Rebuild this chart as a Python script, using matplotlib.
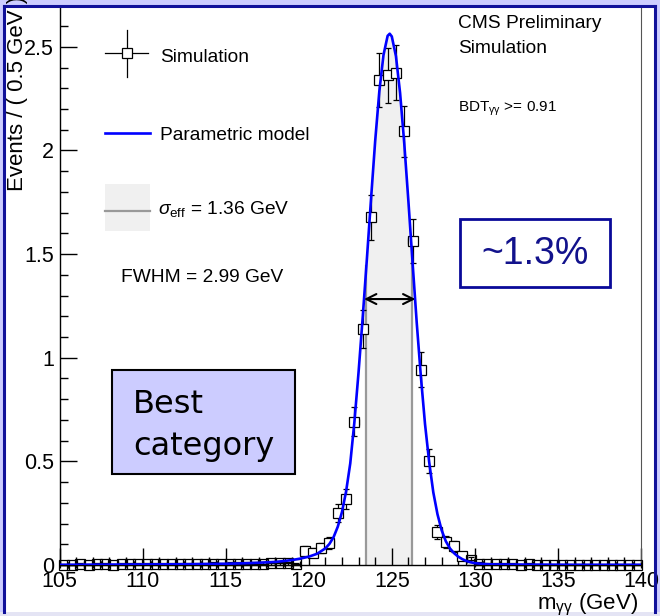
import numpy as np
import matplotlib
matplotlib.use("Agg")
import matplotlib.pyplot as plt
from matplotlib.patches import Rectangle
from matplotlib.lines import Line2D
from matplotlib.ticker import FixedLocator, MultipleLocator

plt.rcParams['font.family'] = ['Liberation Sans', 'DejaVu Sans']
plt.rcParams['mathtext.fontset'] = 'custom'
plt.rcParams['mathtext.rm'] = 'Liberation Sans'
plt.rcParams['mathtext.it'] = 'Liberation Sans:italic'
plt.rcParams['mathtext.bf'] = 'Liberation Sans:bold'

# ---------------- data ----------------
bin_width = 0.5
bin_centers = np.arange(105.25, 140.0, bin_width)

sim_values = [
    0.002, 0.002, 0.003, 0.002, 0.003, 0.003, 0.002, 0.003, 0.003, 0.004,
    0.003, 0.004, 0.004, 0.004, 0.005, 0.004, 0.005, 0.005, 0.006, 0.005,
    0.006, 0.006, 0.007, 0.007, 0.007, 0.008,          # 105.25 - 117.75
    0.008, 0.008, 0.005,                               # 118.25 - 119.25
    0.068, 0.059, 0.080, 0.107, 0.252, 0.320, 0.692, 1.140, 1.677, 2.340,
    2.362, 2.376, 2.092, 1.565, 0.943, 0.502, 0.160, 0.110, 0.090, 0.043,
    0.026, 0.006,                                      # 119.75 - 130.25
    0.005, 0.004, 0.003, 0.003, 0.002, 0.003, 0.002, 0.002, 0.002, 0.002,
    0.001, 0.002, 0.001, 0.001, 0.001, 0.001, 0.001, 0.001, 0.001,  # 130.75 - 139.75
]
sim_errors = [
    0.0038, 0.0038, 0.0047, 0.0038, 0.0047, 0.0047, 0.0038, 0.0047, 0.0047, 0.0054,
    0.0047, 0.0054, 0.0054, 0.0054, 0.0060, 0.0054, 0.0060, 0.0060, 0.0066, 0.0060,
    0.0066, 0.0066, 0.0071, 0.0071, 0.0071, 0.0076,
    0.0076, 0.0076, 0.0060,
    0.022, 0.021, 0.024, 0.028, 0.043, 0.048, 0.071, 0.091, 0.110, 0.130,
    0.131, 0.131, 0.123, 0.106, 0.083, 0.060, 0.034, 0.028, 0.0255, 0.0176,
    0.0137, 0.0066,
    0.0060, 0.0054, 0.0047, 0.0047, 0.0038, 0.0047, 0.0038, 0.0038, 0.0038, 0.0038,
    0.0027, 0.0038, 0.0027, 0.0027, 0.0027, 0.0027, 0.0027, 0.0027, 0.0027,
]

# parametric model curve
model_mass = [105.0, 108.0, 111.0, 113.0, 115.0, 116.0, 117.0, 118.0, 118.5, 119.0,
              119.5, 120.0, 120.5, 121.0, 121.25, 121.5, 121.75, 122.0, 122.25, 122.5,
              122.75, 123.0, 123.25, 123.5, 123.75, 124.0, 124.25, 124.5, 124.75, 124.875,
              125.0, 125.25, 125.5, 125.75, 126.0, 126.25, 126.5, 126.75, 127.0, 127.25,
              127.5, 127.75, 128.0, 128.25, 128.5, 128.75, 129.0, 129.25, 129.5, 129.75,
              130.0, 130.5, 131.0, 133.0, 136.0, 140.0]
model_values = [0.001, 0.002, 0.003, 0.004, 0.006, 0.008, 0.011, 0.015, 0.019, 0.024,
                0.031, 0.040, 0.054, 0.080, 0.102, 0.135, 0.185, 0.255, 0.355, 0.490,
                0.690, 0.930, 1.195, 1.475, 1.765, 2.045, 2.285, 2.460, 2.553, 2.563,
                2.550, 2.455, 2.277, 2.035, 1.755, 1.460, 1.170, 0.910, 0.680, 0.497,
                0.350, 0.245, 0.168, 0.115, 0.080, 0.057, 0.040, 0.028, 0.019, 0.013,
                0.009, 0.005, 0.003, 0.002, 0.001, 0.001]

sigma_eff_lo, sigma_eff_hi = 123.47, 126.19
fwhm_lo, fwhm_hi, half_max = 123.33, 126.42, 1.283

x_ticks = [105, 110, 115, 120, 125, 130, 135, 140]
x_tick_labels = ['105', '110', '115', '120', '125', '130', '135', '140']
y_ticks = [0, 0.5, 1.0, 1.5, 2.0, 2.5]
y_tick_labels = ['0', '0.5', '1', '1.5', '2', '2.5']

# ---------------- figure ----------------
W, H = 660, 616
fig = plt.figure(figsize=(W / 100, H / 100), dpi=100)
fig.patch.set_facecolor('#ccccff')


def P(x, y):
    return (x / W, 1 - y / H)


# slide frame
fig.patches.append(Rectangle(P(0, 616), 1, 4 / H, transform=fig.transFigure,
                             facecolor='#e4e4f4', edgecolor='none', zorder=-2))
fig.patches.append(Rectangle(P(4, 612), 651 / W, 606 / H, transform=fig.transFigure,
                             facecolor='white', edgecolor='none', zorder=-2))
border = '#10109a'
for (x0, y0, x1, y1) in [(4, 6, 4, 612), (4, 6, 655, 6), (655, 6, 655, 612)]:
    fig.lines.append(Line2D([x0 / W, x1 / W], [1 - y0 / H, 1 - y1 / H],
                            transform=fig.transFigure, color=border, lw=2.2, zorder=50))

ax = fig.add_axes([59.5 / W, (H - 565) / H, (641 - 59.5) / W, (565 - 7) / H])
ax.set_facecolor('none')
ax.set_xlim(105, 140)
ax.set_ylim(0, 2.692)

mm = np.array(model_mass)
mv = np.array(model_values)

# sigma_eff band
band_x = np.concatenate([[sigma_eff_lo], mm[(mm > sigma_eff_lo) & (mm < sigma_eff_hi)], [sigma_eff_hi]])
band_y = np.interp(band_x, mm, mv)
ax.fill_between(band_x, 0, band_y, color='#f0f0f0', lw=0, zorder=1)
ax.plot([sigma_eff_lo, sigma_eff_lo], [0, np.interp(sigma_eff_lo, mm, mv)], color='#999999', lw=1.6, zorder=2)
ax.plot([sigma_eff_hi, sigma_eff_hi], [0, np.interp(sigma_eff_hi, mm, mv)], color='#999999', lw=1.6, zorder=2)

# simulation points: error bars, then markers (filled white where bars would cross them)
sv = np.array(sim_values)
eb = ax.errorbar(bin_centers, sv, yerr=sim_errors, xerr=bin_width / 2,
                 fmt='none', ecolor='black', elinewidth=0.9, capsize=2, capthick=0.9, zorder=4)
for art in list(eb.lines[1]) + list(eb.lines[2]):
    art.set_clip_on(False)
big = sv > 0.03
ax.plot(bin_centers[big], sv[big], ls='none', marker='s', ms=7.4, mfc='white', mec='black',
        mew=0.9, zorder=5, clip_on=False)
ax.plot(bin_centers[~big], sv[~big], ls='none', marker='s', ms=7.4, mfc='none', mec='black',
        mew=0.9, zorder=5, clip_on=False)

# model (drawn on top of the data, as RooFit does)
ax.plot(mm, mv, color='#0000ff', lw=1.9, zorder=6)

# FWHM arrow
ax.annotate('', xy=(fwhm_hi, half_max), xytext=(fwhm_lo, half_max),
            arrowprops=dict(arrowstyle='<->', color='black', lw=1.5,
                            mutation_scale=18, shrinkA=0, shrinkB=0), zorder=7)

# axes style
ax.spines['top'].set_visible(False)
ax.spines['right'].set_color('#555555')
ax.spines['left'].set_linewidth(1.0)
ax.spines['bottom'].set_linewidth(1.0)
ax.xaxis.set_major_locator(FixedLocator(x_ticks))
ax.set_xticklabels(x_tick_labels)
ax.xaxis.set_minor_locator(MultipleLocator(1))
ax.yaxis.set_major_locator(FixedLocator(y_ticks))
ax.set_yticklabels(y_tick_labels)
ax.yaxis.set_minor_locator(MultipleLocator(0.1))
ax.tick_params(which='both', direction='in', top=False, right=False, width=1.0,
               labelsize=15.5, colors='black')
ax.tick_params(which='major', length=12.2, pad=4)
ax.tick_params(which='minor', length=5.8)

# axis titles
fig.text(*P(18, -4), 'Events / ( 0.5 GeV )', rotation=90, ha='center', va='top', fontsize=16)
fig.text(*P(638, 609), r'm$_{\mathrm{\gamma\gamma}}$ (GeV)', ha='right', va='baseline', fontsize=16)

# legend (drawn by hand, ROOT style)
fig.lines.append(Line2D([105 / W, 148 / W], [1 - 53 / H] * 2, transform=fig.transFigure, color='black', lw=0.9))
fig.lines.append(Line2D([127 / W] * 2, [1 - 30 / H, 1 - 77 / H], transform=fig.transFigure, color='black', lw=0.9))
fig.lines.append(Line2D([127 / W], [1 - 53 / H], transform=fig.transFigure, marker='s', ms=7.4,
                        mfc='white', mec='black', mew=0.9, lw=0))
fig.text(*P(160, 62), 'Simulation', fontsize=13.8, va='baseline')
fig.lines.append(Line2D([105 / W, 150 / W], [1 - 133 / H] * 2, transform=fig.transFigure, color='#0000ff', lw=1.9))
fig.text(*P(160, 140), 'Parametric model', fontsize=13.8, va='baseline')
fig.patches.append(Rectangle(P(105, 231), 45 / W, 47 / H, transform=fig.transFigure,
                             facecolor='#f0f0f0', edgecolor='none'))
fig.lines.append(Line2D([105 / W, 150 / W], [1 - 211 / H] * 2, transform=fig.transFigure, color='#999999', lw=1.6))
fig.text(*P(158, 214), r'$\sigma_{\rm eff}$ = 1.36 GeV', fontsize=13.8, va='baseline')
fig.text(*P(121, 282), 'FWHM = 2.99 GeV', fontsize=13.8, va='baseline')

fig.text(*P(458, 28), 'CMS Preliminary', fontsize=13.8, va='baseline')
fig.text(*P(458, 53), 'Simulation', fontsize=13.8, va='baseline')
fig.text(*P(458, 112), r'BDT$_{\mathrm{\gamma\gamma}}$ >= 0.91', fontsize=11, va='baseline')

# annotation boxes
fig.patches.append(Rectangle(P(460, 287), 150 / W, 68 / H, transform=fig.transFigure,
                             facecolor='white', edgecolor='#0a0a99', lw=2.0, zorder=20))
fig.text(*P(535, 254), '~1.3%', fontsize=27, color='#12128c', ha='center', va='center',
         family=['Liberation Sans'], zorder=21)

fig.patches.append(Rectangle(P(112, 474), 183 / W, 104 / H, transform=fig.transFigure,
                             facecolor='#ccccff', edgecolor='black', lw=1.5, zorder=20))
fig.text(*P(133, 413), 'Best', fontsize=23, color='black', ha='left', va='baseline',
         family=['DejaVu Sans'], zorder=21)
fig.text(*P(133, 455), 'category', fontsize=23, color='black', ha='left', va='baseline',
         family=['DejaVu Sans'], zorder=21)

fig.savefig('out.png', dpi=100, facecolor=fig.get_facecolor())
